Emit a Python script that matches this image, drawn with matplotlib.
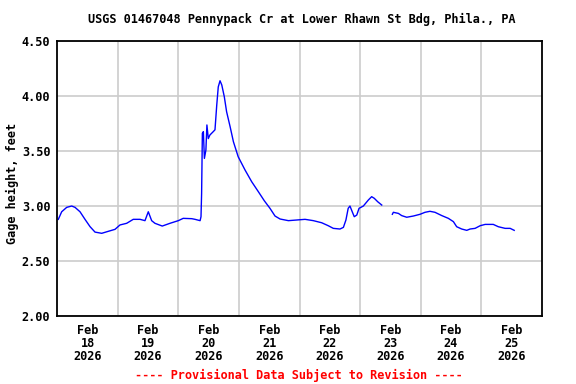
import numpy as np
import matplotlib
matplotlib.use("Agg")
import matplotlib.pyplot as plt

# Hours since 2026-02-18 00:00 and gage height (feet); NaN marks a data gap
hours = [0.4, 1.74, 3.73, 5.71, 7.02, 9.0, 10.98, 12.96, 14.95, 17.6, 20.2, 22.87,
         24.85, 27.5, 30.1, 32.8, 34.75, 36.07, 37.4, 38.7, 41.6, 44.67, 47.96,
         49.9, 53.3, 54.6, 56.6, 56.96, 57.2, 57.5, 57.9, 58.3, 58.9, 59.3, 59.85,
         60.5, 61.8, 62.5, 63.2, 63.8, 64.5, 65.2, 66.2, 67.1, 68.5, 69.8, 71.7,
         74.4, 77.05, 79.7, 82.05, 84.3, 86.3, 88.3, 91.6, 94.9, 98.2, 101.5,
         104.8, 107.4, 109.4, 112.05, 113.4, 114.4, 115.3, 116.0, 116.9, 117.7,
         118.7, 119.6, 121.3, 123.3, 124.6, 125.65, 127.0, 128.6,
         130.7,
         132.8, 133.2, 135.2, 136.5, 138.5, 141.1, 143.8, 145.75, 147.7, 149.7,
         152.4, 155.0, 157.0, 158.3, 160.3, 162.3, 163.6, 165.6, 167.6, 169.6,
         172.8, 174.8, 177.5, 179.5, 181.1]
gage_ft = [2.876, 2.945, 2.985, 2.997, 2.985, 2.945, 2.876, 2.81, 2.76, 2.749, 2.767, 2.785,
           2.825, 2.84, 2.876, 2.876, 2.864, 2.945, 2.864, 2.84, 2.815, 2.84, 2.864,
           2.885, 2.882, 2.876, 2.864, 2.9, 3.11, 3.658, 3.673, 3.43, 3.506, 3.734, 3.61,
           3.643, 3.673, 3.69, 3.915, 4.08, 4.136, 4.097, 3.99, 3.855, 3.718, 3.582, 3.445,
           3.325, 3.218, 3.127, 3.045, 2.976, 2.906, 2.879, 2.864, 2.87, 2.876, 2.864,
           2.845, 2.818, 2.794, 2.788, 2.803, 2.87, 2.976, 2.997, 2.945, 2.9,
           2.915, 2.976, 2.997, 3.052, 3.082, 3.067, 3.036, 3.006,
           np.nan,
           2.922, 2.94, 2.93, 2.91, 2.895, 2.906, 2.922, 2.94, 2.949, 2.94,
           2.91, 2.885, 2.855, 2.809, 2.788, 2.776, 2.788, 2.794, 2.818, 2.83,
           2.83, 2.809, 2.794, 2.794, 2.776]

day_labels = ["Feb\n18\n2026", "Feb\n19\n2026", "Feb\n20\n2026", "Feb\n21\n2026",
              "Feb\n22\n2026", "Feb\n23\n2026", "Feb\n24\n2026", "Feb\n25\n2026"]
y_ticks = [2.00, 2.50, 3.00, 3.50, 4.00, 4.50]

W, H = 576, 384
fig = plt.figure(figsize=(W / 100, H / 100), dpi=100)
left, right, top, bottom = 57.3, 541.7, 40.7, 315.7
ax = fig.add_axes([left / W, 1 - bottom / H, (right - left) / W, (bottom - top) / H])

font = dict(family="DejaVu Sans Mono", weight="bold", size=8.6)

ax.plot(hours, gage_ft, color="#0000ff", linewidth=1.0)

ax.set_xlim(0, 24 * len(day_labels))
ax.set_ylim(y_ticks[0], y_ticks[-1])

ax.set_xticks([24 * i for i in range(1, len(day_labels))])
ax.set_xticklabels([])
ax.set_xticks([24 * i + 12 for i in range(len(day_labels))], minor=True)
ax.set_xticklabels(day_labels, minor=True, fontdict=font, linespacing=1.0)
ax.set_yticks(y_ticks)
ax.set_yticklabels([f"{v:.2f}" for v in y_ticks], fontdict=font)
ax.tick_params(axis="both", which="both", length=0)
ax.tick_params(axis="x", which="minor", pad=6)
ax.tick_params(axis="y", pad=5)

ax.grid(True, which="major", color="#cccccc", linewidth=1.2)
ax.set_axisbelow(True)
for s in ax.spines.values():
    s.set_linewidth(1.3)
    s.set_color("black")

fig.text(301.7 / W, 1 - 19 / H, "USGS 01467048 Pennypack Cr at Lower Rhawn St Bdg, Phila., PA",
         ha="center", va="center", **font)
fig.text(12 / W, 1 - 183 / H, "Gage height, feet", rotation=90, ha="center", va="center", **font)
fig.text(299 / W, 1 - 375 / H, "---- Provisional Data Subject to Revision ----",
         ha="center", va="center", color="#ff0000", **font)

fig.savefig("out.png", dpi=100)
